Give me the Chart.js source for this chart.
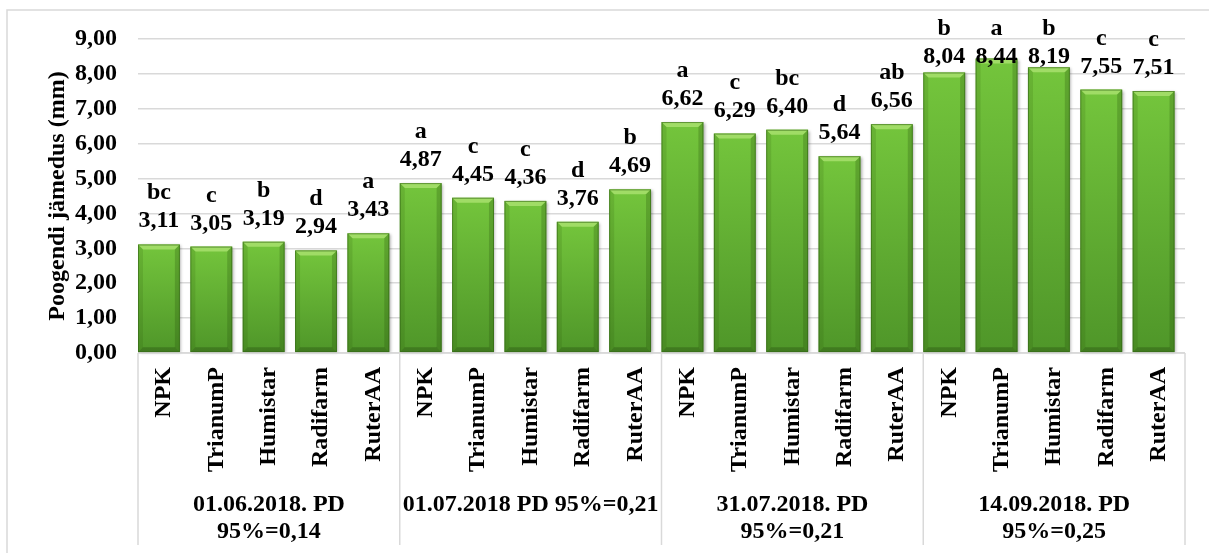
<!DOCTYPE html>
<html lang="et">
<head>
    <meta charset="UTF-8">
    <title>Poogendi jämedus</title>
    <script src="https://cdn.jsdelivr.net/npm/chart.js"></script>
    <style>
        html, body { margin: 0; padding: 0; background: #fff; }
        #wrap { width: 1209px; height: 553px; }
    </style>
</head>
<body>
    <div id="wrap"><canvas id="myChart"></canvas></div>

    <script>
        // andmed
        const products = ['NPK', 'TrianumP', 'Humistar', 'Radifarm', 'RuterAA'];
        const dateGroups = [
            ['01.06.2018. PD', '95%=0,14'],
            ['01.07.2018 PD 95%=0,21'],
            ['31.07.2018. PD', '95%=0,21'],
            ['14.09.2018. PD', '95%=0,25']
        ];
        const values = [
            3.11, 3.05, 3.19, 2.94, 3.43,
            4.87, 4.45, 4.36, 3.76, 4.69,
            6.62, 6.29, 6.40, 5.64, 6.56,
            8.04, 8.44, 8.19, 7.55, 7.51
        ];
        const letters = [
            'bc', 'c', 'b', 'd', 'a',
            'a', 'c', 'c', 'd', 'b',
            'a', 'c', 'bc', 'd', 'ab',
            'b', 'a', 'b', 'c', 'c'
        ];
        const yTicks = [0, 1, 2, 3, 4, 5, 6, 7, 8, 9];

        const FONT = 'bold 24px "Liberation Serif", "Times New Roman", serif';
        const GRID = '#d9d9d9';

        // bar sits at the left part of each slot (like in excel)
        const points = values.map((v, i) => ({ x: i + 0.4, y: v }));
        const nSlots = products.length * dateGroups.length;

        const fmt = (v) => v.toFixed(2).replace('.', ',');

        // outer frame
        const framePlugin = {
            id: 'frame',
            beforeDraw(chart) {
                const c = chart.ctx;
                c.save();
                c.strokeStyle = GRID;
                c.lineWidth = 1.5;
                c.beginPath();
                c.moveTo(7, chart.height);
                c.lineTo(7, 10);
                c.lineTo(chart.width, 10);
                c.stroke();
                c.restore();
            }
        };

        // bevelled green bars
        const bevelPlugin = {
            id: 'bevel',
            afterDatasetsDraw(chart) {
                const c = chart.ctx;
                const meta = chart.getDatasetMeta(0);
                meta.data.forEach((bar) => {
                    const p = bar.getProps(['x', 'y', 'base', 'width'], true);
                    const L = p.x - p.width / 2, R = p.x + p.width / 2;
                    const T = p.y, B = p.base, d = 5;
                    c.save();
                    c.shadowColor = 'rgba(0,0,0,0.35)';
                    c.shadowBlur = 3;
                    c.shadowOffsetX = 1.5;
                    c.shadowOffsetY = 1;
                    const g = c.createLinearGradient(0, T, 0, B);
                    g.addColorStop(0, '#74c53c');
                    g.addColorStop(1, '#4f9629');
                    c.fillStyle = g;
                    c.fillRect(L, T, R - L, B - T);
                    c.restore();

                    c.save();
                    const poly = (pts, col) => {
                        c.beginPath();
                        c.moveTo(pts[0][0], pts[0][1]);
                        for (let k = 1; k < pts.length; k++) c.lineTo(pts[k][0], pts[k][1]);
                        c.closePath();
                        c.fillStyle = col;
                        c.fill();
                    };
                    poly([[L, T], [R, T], [R - d, T + d], [L + d, T + d]], '#a0dc66');
                    poly([[L, T], [L + d, T + d], [L + d, B - d], [L, B]], 'rgba(40,80,10,0.15)');
                    poly([[R, T], [R - d, T + d], [R - d, B - d], [R, B]], 'rgba(40,80,10,0.26)');
                    poly([[L, B], [R, B], [R - d, B - d], [L + d, B - d]], 'rgba(30,60,10,0.30)');
                    c.strokeStyle = 'rgba(50,100,20,0.6)';
                    c.lineWidth = 1;
                    c.strokeRect(L + 0.5, T + 0.5, R - L - 1, B - T - 1);
                    c.restore();
                });
            }
        };

        // letters + values above bars
        const labelPlugin = {
            id: 'barLabels',
            afterDatasetsDraw(chart) {
                const c = chart.ctx;
                const area = chart.chartArea;
                const meta = chart.getDatasetMeta(0);
                c.save();
                c.font = FONT;
                c.fillStyle = '#000';
                c.textAlign = 'center';
                c.textBaseline = 'alphabetic';
                meta.data.forEach((bar, i) => {
                    const yv = Math.max(bar.y - 17, area.top + 24);
                    c.fillText(fmt(values[i]), bar.x, yv);
                    c.fillText(letters[i], bar.x, yv - 28);
                });
                c.restore();
            }
        };

        // two level category axis
        const categoryPlugin = {
            id: 'catAxis',
            afterDraw(chart) {
                const c = chart.ctx;
                const area = chart.chartArea;
                const xs = chart.scales.x;
                c.save();
                c.strokeStyle = GRID;
                c.lineWidth = 1.5;
                c.beginPath();
                c.moveTo(area.left, area.bottom);
                c.lineTo(area.right, area.bottom);
                for (let g = 0; g <= dateGroups.length; g++) {
                    const px = xs.getPixelForValue(g * products.length);
                    c.moveTo(px, area.bottom);
                    c.lineTo(px, area.bottom + 192);
                }
                c.stroke();

                c.font = FONT;
                c.fillStyle = '#000';
                for (let i = 0; i < nSlots; i++) {
                    const px = xs.getPixelForValue(i + 0.5);
                    c.save();
                    c.translate(px, area.bottom + 14);
                    c.rotate(-Math.PI / 2);
                    c.textAlign = 'right';
                    c.textBaseline = 'middle';
                    c.fillText(products[i % products.length], 0, 0);
                    c.restore();
                }
                c.textAlign = 'center';
                c.textBaseline = 'middle';
                dateGroups.forEach((lines, g) => {
                    const px = xs.getPixelForValue(g * products.length + products.length / 2);
                    lines.forEach((t, k) => {
                        c.fillText(t, px, area.bottom + 152 + k * 27);
                    });
                });
                c.restore();
            }
        };

        const ctx = document.querySelector('#myChart').getContext('2d');
        const myChart = new Chart(ctx, {
            type: 'bar',
            data: {
                datasets: [{
                    label: 'Poogendi jämedus',
                    data: points,
                    backgroundColor: 'rgba(0,0,0,0)',
                    borderWidth: 0,
                    categoryPercentage: 1.0,
                    barPercentage: 0.8
                }]
            },
            options: {
                responsive: true,
                maintainAspectRatio: false,
                animation: false,
                layout: { padding: { top: 39, right: 24, left: 0, bottom: 0 } },
                plugins: {
                    legend: { display: false },
                    tooltip: { enabled: false }
                },
                scales: {
                    x: {
                        type: 'linear',
                        min: 0,
                        max: nSlots,
                        offset: false,
                        grid: { display: false },
                        border: { display: false },
                        ticks: { display: false },
                        afterFit: (s) => { s.height = 200; }
                    },
                    y: {
                        min: 0,
                        max: 9,
                        afterBuildTicks: (s) => { s.ticks = yTicks.map(v => ({ value: v })); },
                        grid: { color: GRID, lineWidth: 1.5, drawTicks: false },
                        border: { display: false },
                        ticks: {
                            padding: 21,
                            color: '#000',
                            font: { family: '"Liberation Serif"', size: 24, weight: 'bold' },
                            callback: (v) => fmt(v)
                        },
                        title: {
                            display: true,
                            text: 'Poogendi jämedus (mm)',
                            color: '#000',
                            font: { family: '"Liberation Serif"', size: 24, weight: 'bold' },
                            padding: { top: 43, bottom: 0 }
                        },
                        afterFit: (s) => { s.width = 138; }
                    }
                }
            },
            plugins: [framePlugin, bevelPlugin, labelPlugin, categoryPlugin]
        });
    </script>
</body>
</html>
